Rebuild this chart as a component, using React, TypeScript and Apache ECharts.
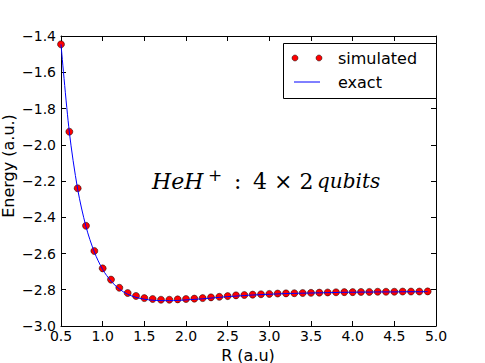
import React, { useEffect, useRef } from "react";
import * as echarts from "echarts";

const R_VALUES = [
  0.5, 0.6, 0.7, 0.8, 0.9, 1.0, 1.1, 1.2, 1.3, 1.4, 1.5, 1.6, 1.7, 1.8, 1.9,
  2.0, 2.1, 2.2, 2.3, 2.4, 2.5, 2.6, 2.7, 2.8, 2.9, 3.0, 3.1, 3.2, 3.3, 3.4,
  3.5, 3.6, 3.7, 3.8, 3.9, 4.0, 4.1, 4.2, 4.3, 4.4, 4.5, 4.6, 4.7, 4.8, 4.9,
];

const SIMULATED = [
  -1.446, -1.928, -2.24, -2.447, -2.586, -2.682, -2.744, -2.789, -2.818,
  -2.834, -2.846, -2.851, -2.855, -2.855, -2.853, -2.851, -2.849, -2.846,
  -2.842, -2.839, -2.835, -2.831, -2.829, -2.827, -2.825, -2.823, -2.821,
  -2.82, -2.819, -2.818, -2.817, -2.816, -2.815, -2.814, -2.813, -2.813,
  -2.812, -2.812, -2.811, -2.811, -2.811, -2.81, -2.81, -2.81, -2.809,
];

const EXACT = [
  -1.446, -1.93, -2.245, -2.452, -2.592, -2.688, -2.752, -2.796, -2.825,
  -2.842, -2.852, -2.858, -2.86, -2.86, -2.859, -2.856, -2.853, -2.85,
  -2.846, -2.842, -2.838, -2.835, -2.832, -2.829, -2.827, -2.825, -2.823,
  -2.821, -2.82, -2.819, -2.818, -2.817, -2.816, -2.815, -2.814, -2.814,
  -2.813, -2.813, -2.812, -2.812, -2.812, -2.811, -2.811, -2.811, -2.81,
];

const X_MIN = 0.5;
const X_MAX = 5.0;
const X_STEP = 0.5;
const Y_MIN = -3.0;
const Y_MAX = -1.4;
const Y_STEP = 0.2;

const LEGEND_LABELS = ["simulated", "exact"];
const X_LABEL = "R (a.u)";
const Y_LABEL = "Energy (a.u.)";

const fmt = (v: number) => {
  const s = v.toFixed(1);
  return s.startsWith("-") ? "\u2212" + s.slice(1) : s;
};

export default function App() {
  const ref = useRef<HTMLDivElement>(null);
  useEffect(() => {
    if (!ref.current) return;
    const chart = echarts.init(ref.current, null, { renderer: "svg" });
    const GL = 61, GT = 36, GW = 375, GH = 290;
    const tickFont = { color: "#000", fontFamily: "DejaVu Sans", fontSize: 14 };
    const baseAxisLine = { show: true, lineStyle: { color: "#000", width: 1 } };
    const baseTick = { show: true, inside: true, length: 5, lineStyle: { color: "#000", width: 1 } };
    const serif = "DejaVu Serif";
    const annY = 181;
    const option: any = {
      animation: false,
      backgroundColor: "#fff",
      grid: { left: GL, top: GT, width: GW, height: GH, containLabel: false },
      xAxis: [
        {
          type: "value", min: X_MIN, max: X_MAX, interval: X_STEP, position: "bottom",
          axisLine: baseAxisLine, axisTick: baseTick, splitLine: { show: false },
          axisLabel: { ...tickFont, margin: 3, formatter: fmt, showMinLabel: true, showMaxLabel: true },
        },
        {
          type: "value", min: X_MIN, max: X_MAX, interval: X_STEP, position: "top",
          axisLine: baseAxisLine, axisTick: baseTick, splitLine: { show: false },
          axisLabel: { show: false },
        },
      ],
      yAxis: [
        {
          type: "value", min: Y_MIN, max: Y_MAX, interval: Y_STEP, position: "left",
          axisLine: baseAxisLine, axisTick: baseTick, splitLine: { show: false },
          axisLabel: { ...tickFont, margin: 5, formatter: fmt, showMinLabel: true, showMaxLabel: true },
        },
        {
          type: "value", min: Y_MIN, max: Y_MAX, interval: Y_STEP, position: "right",
          axisLine: baseAxisLine, axisTick: baseTick, splitLine: { show: false },
          axisLabel: { show: false },
        },
      ],
      series: [
        {
          name: LEGEND_LABELS[0],
          type: "scatter",
          data: R_VALUES.map((r, i) => [r, SIMULATED[i]]),
          symbol: "circle",
          symbolSize: 7,
          itemStyle: { color: "#ff0000", borderColor: "#000", borderWidth: 0.5, opacity: 1 },
          z: 2,
        },
        {
          name: LEGEND_LABELS[1],
          type: "line",
          data: R_VALUES.map((r, i) => [r, EXACT[i]]),
          showSymbol: false,
          symbol: "none",
          smooth: 0.3,
          lineStyle: { color: "#0000ff", width: 1 },
          z: 3,
        },
      ],
      graphic: [
        { type: "rect", shape: { x: 283.5, y: 43.5, width: 153, height: 55 }, style: { fill: "#fff", stroke: "#000", lineWidth: 1 }, z: 10 },
        { type: "circle", shape: { cx: 295, cy: 58, r: 3 }, style: { fill: "#ff0000", stroke: "#000", lineWidth: 0.5 }, z: 11 },
        { type: "circle", shape: { cx: 319, cy: 58, r: 3 }, style: { fill: "#ff0000", stroke: "#000", lineWidth: 0.5 }, z: 11 },
        { type: "line", shape: { x1: 294, y1: 82, x2: 320, y2: 82 }, style: { stroke: "#0000ff", lineWidth: 1 }, z: 11 },
        { type: "text", x: 338, y: 58, style: { text: LEGEND_LABELS[0], fontFamily: "DejaVu Sans", fontSize: 16, fill: "#000", verticalAlign: "middle" }, z: 11 },
        { type: "text", x: 338, y: 82, style: { text: LEGEND_LABELS[1], fontFamily: "DejaVu Sans", fontSize: 16, fill: "#000", verticalAlign: "middle" }, z: 11 },
        { type: "text", x: 248, y: 355, style: { text: X_LABEL, fontFamily: "DejaVu Sans", fontSize: 16, fill: "#000", align: "center", verticalAlign: "middle" } },
        { type: "text", x: 8, y: 166, rotation: Math.PI / 2, style: { text: Y_LABEL, fontFamily: "DejaVu Sans", fontSize: 16, fill: "#000", align: "center", verticalAlign: "middle" } },
        { type: "text", x: 152, y: annY, style: { text: "HeH", fontFamily: serif, fontStyle: "italic", fontSize: 22, fill: "#000", verticalAlign: "middle" } },
        { type: "text", x: 208, y: annY - 6, style: { text: "+", fontFamily: serif, fontSize: 17, fill: "#000", verticalAlign: "middle" } },
        { type: "text", x: 234, y: annY, style: { text: ":", fontFamily: serif, fontSize: 22, fill: "#000", verticalAlign: "middle" } },
        { type: "text", x: 253, y: annY, style: { text: "4 \u00d7 2", fontFamily: serif, fontSize: 22, fill: "#000", verticalAlign: "middle" } },
        { type: "text", x: 317, y: annY, style: { text: "qubits", fontFamily: serif, fontStyle: "italic", fontSize: 20, fill: "#000", verticalAlign: "middle" } },
      ],
    };
    chart.setOption(option);
    return () => chart.dispose();
  }, []);
  return (
    <div
      ref={ref}
      style={{ position: "fixed", left: 0, top: 0, width: 485, height: 363, background: "#fff" }}
    />
  );
}
